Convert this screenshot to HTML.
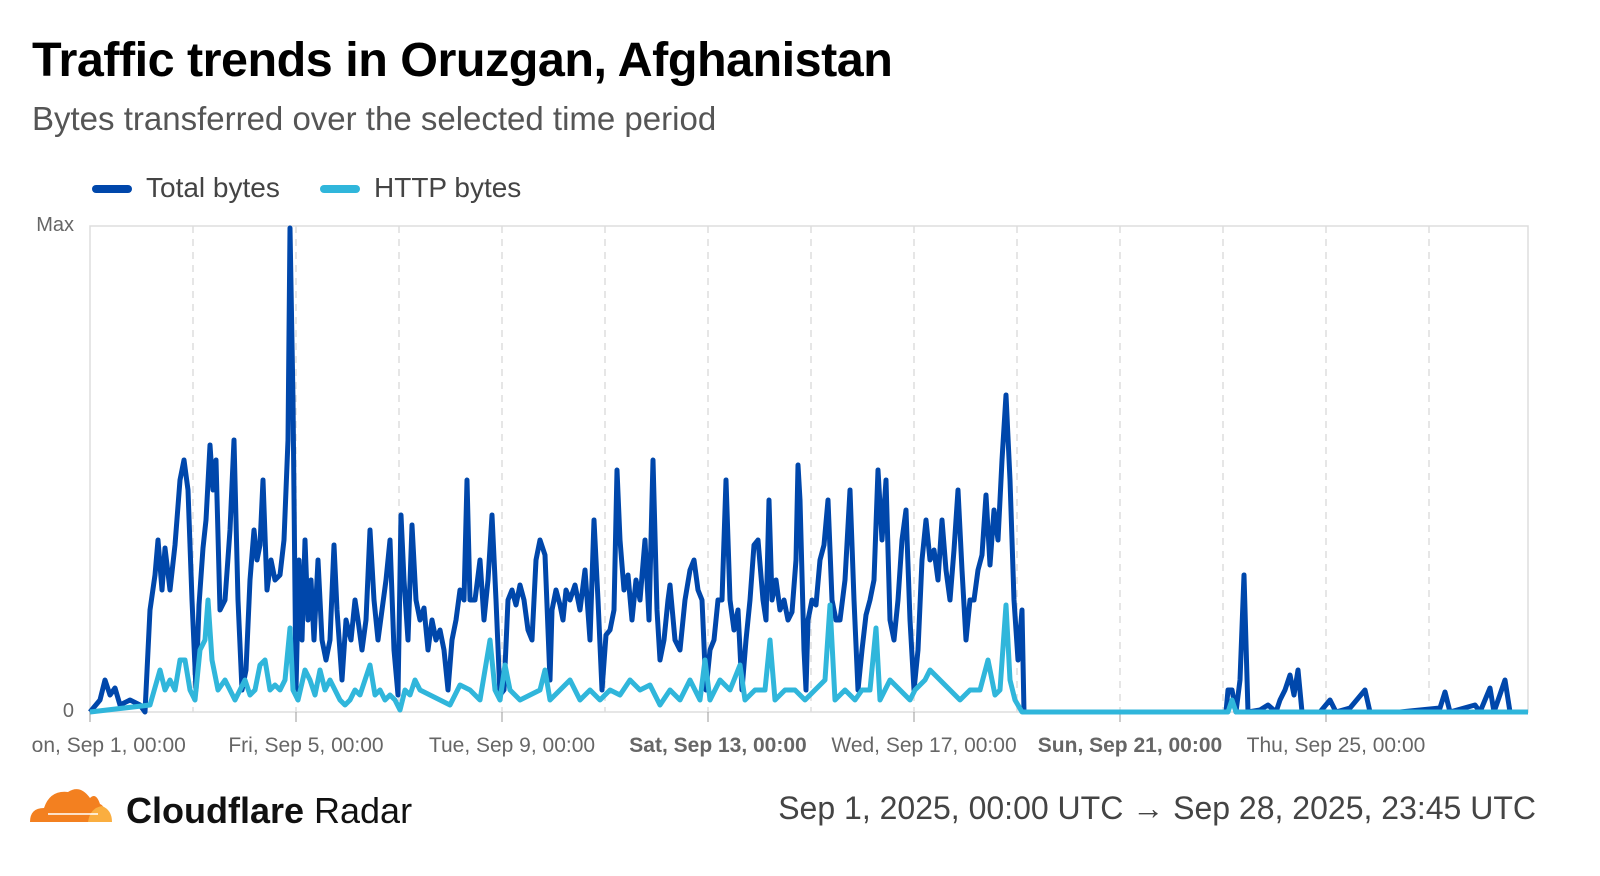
<!DOCTYPE html>
<html><head><meta charset="utf-8"><style>
html,body{margin:0;padding:0;background:#fff;width:1600px;height:876px;overflow:hidden;font-family:"Liberation Sans",sans-serif}
.t{position:absolute;left:32px;top:32px;font-size:48.5px;font-weight:bold;color:#000;letter-spacing:-0.5px}
.s{position:absolute;left:32px;top:100px;font-size:33px;color:#555}
.lg{position:absolute;top:172px;font-size:28px;color:#444}
.sw{position:absolute;top:185px;width:40px;height:8px;border-radius:4px}
.ft{position:absolute;right:64px;top:790px;font-size:32px;color:#444}
.br{position:absolute;left:126px;top:790px;font-size:36px;color:#111}
</style></head><body>
<div class="t">Traffic trends in Oruzgan, Afghanistan</div>
<div class="s">Bytes transferred over the selected time period</div>
<div class="sw" style="left:92px;background:#0047ab"></div><div class="lg" style="left:146px">Total bytes</div>
<div class="sw" style="left:320px;background:#30b6db"></div><div class="lg" style="left:374px">HTTP bytes</div>
<svg width="1600" height="876" style="position:absolute;left:0;top:0" id="c">
<defs><clipPath id="cl"><rect x="32" y="700" width="1560" height="80"/></clipPath></defs>
<g stroke="#ddd" stroke-width="1.5" stroke-dasharray="7,6" id="grid"></g>
<rect x="90" y="226" width="1438" height="486" fill="none" stroke="#ddd" stroke-width="1.5"/>
<text x="74" y="231" font-size="20" fill="#666" text-anchor="end" font-family="Liberation Sans">Max</text>
<text x="74" y="717" font-size="20" fill="#666" text-anchor="end" font-family="Liberation Sans">0</text>
<g id="ticks" font-size="21" fill="#666" font-family="Liberation Sans" text-anchor="middle" clip-path="url(#cl)"></g>
<polyline id="tot" fill="none" stroke="#0047ab" stroke-width="5" stroke-linejoin="round"/>
<polyline id="http" fill="none" stroke="#30b6db" stroke-width="5" stroke-linejoin="round"/>
</svg>
<svg width="90" height="50" style="position:absolute;left:28px;top:782px">
<path d="M2,40 Q2,26 16,26 Q22,8 40,10 Q52,2 62,16 Q68,10 72,22 Q78,24 78,40 Z" fill="#f38020"/>
<path d="M60,40 Q62,26 74,24 Q84,28 84,40 Z" fill="#faae40"/>
<path d="M20,32 L70,32" stroke="#fff" stroke-width="1.5"/>
</svg>
<div class="br"><b>Cloudflare</b> Radar</div>
<div class="ft">Sep 1, 2025, 00:00 UTC → Sep 28, 2025, 23:45 UTC</div>
<script>
var g=document.getElementById('grid'),h='';
for(var i=1;i<14;i++){var x=90+i*103;h+='<line x1="'+x+'" y1="226" x2="'+x+'" y2="712"/>';}
g.innerHTML=h;
var L=[[90,"Mon, Sep 1, 00:00",0],[296,"Fri, Sep 5, 00:00",0],[502,"Tue, Sep 9, 00:00",0],[708,"Sat, Sep 13, 00:00",1],[914,"Wed, Sep 17, 00:00",0],[1120,"Sun, Sep 21, 00:00",1],[1326,"Thu, Sep 25, 00:00",0]];
var t='';L.forEach(function(l){t+='<line x1="'+l[0]+'" y1="712" x2="'+l[0]+'" y2="722" stroke="#999"/>';
t+='<text x="'+(l[0]+10)+'" y="752"'+(l[2]?' font-weight="bold"':'')+'>'+l[1]+'</text>';});
document.getElementById('ticks').innerHTML=t;
var T="90,712;100,700;105,680;110,695;115,688;120,705;130,700;140,705;145,712;150,610;155,575;158,540;162,590;165,548;170,590;175,545;180,480;184,460;188,490;192,600;196,690;199,605;203,548;206,520;210,445;213,490;216,460;220,610;225,600;230,530;234,440;238,600;242,690;246,670;250,580;254,530;257,560;260,545;263,480;267,590;271,560;275,580;280,575;284,540;288,440;290,228;293,400;296,690;299,560;302,640;305,540;308,620;311,580;314,640;318,560;322,640;326,660;330,640;334,545;337,610;342,680;346,620;351,640;355,600;358,620;362,650;366,620;370,530;374,600;378,640;382,610;386,580;390,540;394,650;398,695;401,515;404,580;408,640;412,525;416,600;420,620;424,608;428,650;432,620;436,640;440,630;444,650;448,690;452,640;456,620;460,590;464,600;467,480;470,600;475,600;480,560;484,620;488,580;492,515;496,600;500,695;504,690;508,600;512,590;516,605;520,585;524,600;528,630;532,640;536,560;540,540;545,555;550,680;552,610;556,590;560,605;563,620;566,590;570,600;575,585;580,610;585,570;590,640;594,520;598,600;602,690;606,635;610,630;614,610;617,470;620,540;624,590;628,575;632,620;636,580;640,600;645,540;649,620;653,460;657,610;660,660;664,640;668,600;670,585;675,640;680,650;685,600;690,570;694,560;698,590;702,600;706,690;710,650;714,640;718,600;722,600;726,480;730,600;734,630;738,610;742,690;746,640;750,600;754,545;758,540;763,600;766,620;769,500;772,600;776,580;780,610;784,600;788,620;792,612;796,560;798,465;800,500;804,650;806,690;808,620;812,600;816,605;820,560;824,545;828,500;832,600;836,620;840,620;845,580;850,490;854,600;858,690;862,650;866,615;870,600;874,580;878,470;882,540;886,480;890,620;894,640;898,600;902,540;906,510;910,620;914,690;918,650;922,560;926,520;930,560;934,550;938,580;942,520;946,570;950,600;954,550;958,490;962,570;966,640;970,600;974,600;978,570;982,555;986,495;990,565;994,510;998,540;1002,460;1006,395;1010,480;1014,600;1018,660;1022,610;1024,712;1226,712;1228,690;1232,690;1236,712;1240,680;1244,575;1248,712;1260,710;1268,705;1276,712;1280,700;1285,690;1290,675;1294,695;1298,670;1302,712;1320,712;1330,700;1336,712;1350,708;1365,690;1370,712;1400,712;1440,708;1445,692;1450,712;1475,705;1480,712;1490,688;1494,712;1505,680;1510,712;1528,712";
var H="90,712;150,705;160,670;165,690;170,680;175,690;180,660;185,660;190,690;195,700;200,650;205,640;208,600;212,660;218,690;225,680;230,690;235,700;240,690;245,680;250,695;255,690;260,665;265,660;270,690;275,685;280,690;285,680;290,628;293,690;298,700;305,670;310,680;315,695;320,670;325,690;330,680;340,700;345,705;350,700;355,690;360,695;365,680;370,665;375,695;380,690;385,700;390,695;395,700;400,710;405,690;410,695;415,680;420,690;430,695;440,700;450,705;460,685;470,690;480,700;490,640;495,690;500,700;505,665;510,690;520,700;530,695;540,690;545,670;550,700;560,690;570,680;580,700;590,690;600,700;610,690;620,695;630,680;640,690;650,685;660,705;670,690;680,700;690,680;700,700;705,660;710,700;720,680;730,690;740,665;745,700;755,690;765,690;770,640;775,700;785,690;795,690;805,700;815,690;825,680;830,605;835,700;845,690;855,700;862,690;870,690;876,628;880,700;890,680;900,690;910,700;915,690;925,680;930,670;940,680;950,690;960,700;970,690;980,690;988,660;995,695;1000,690;1006,605;1010,680;1015,700;1022,712;1228,712;1232,700;1236,712;1528,712";
function P(s){return s.split(';').join(' ');}
document.getElementById('tot').setAttribute('points',P(T));
document.getElementById('http').setAttribute('points',P(H));
</script>
</body></html>
